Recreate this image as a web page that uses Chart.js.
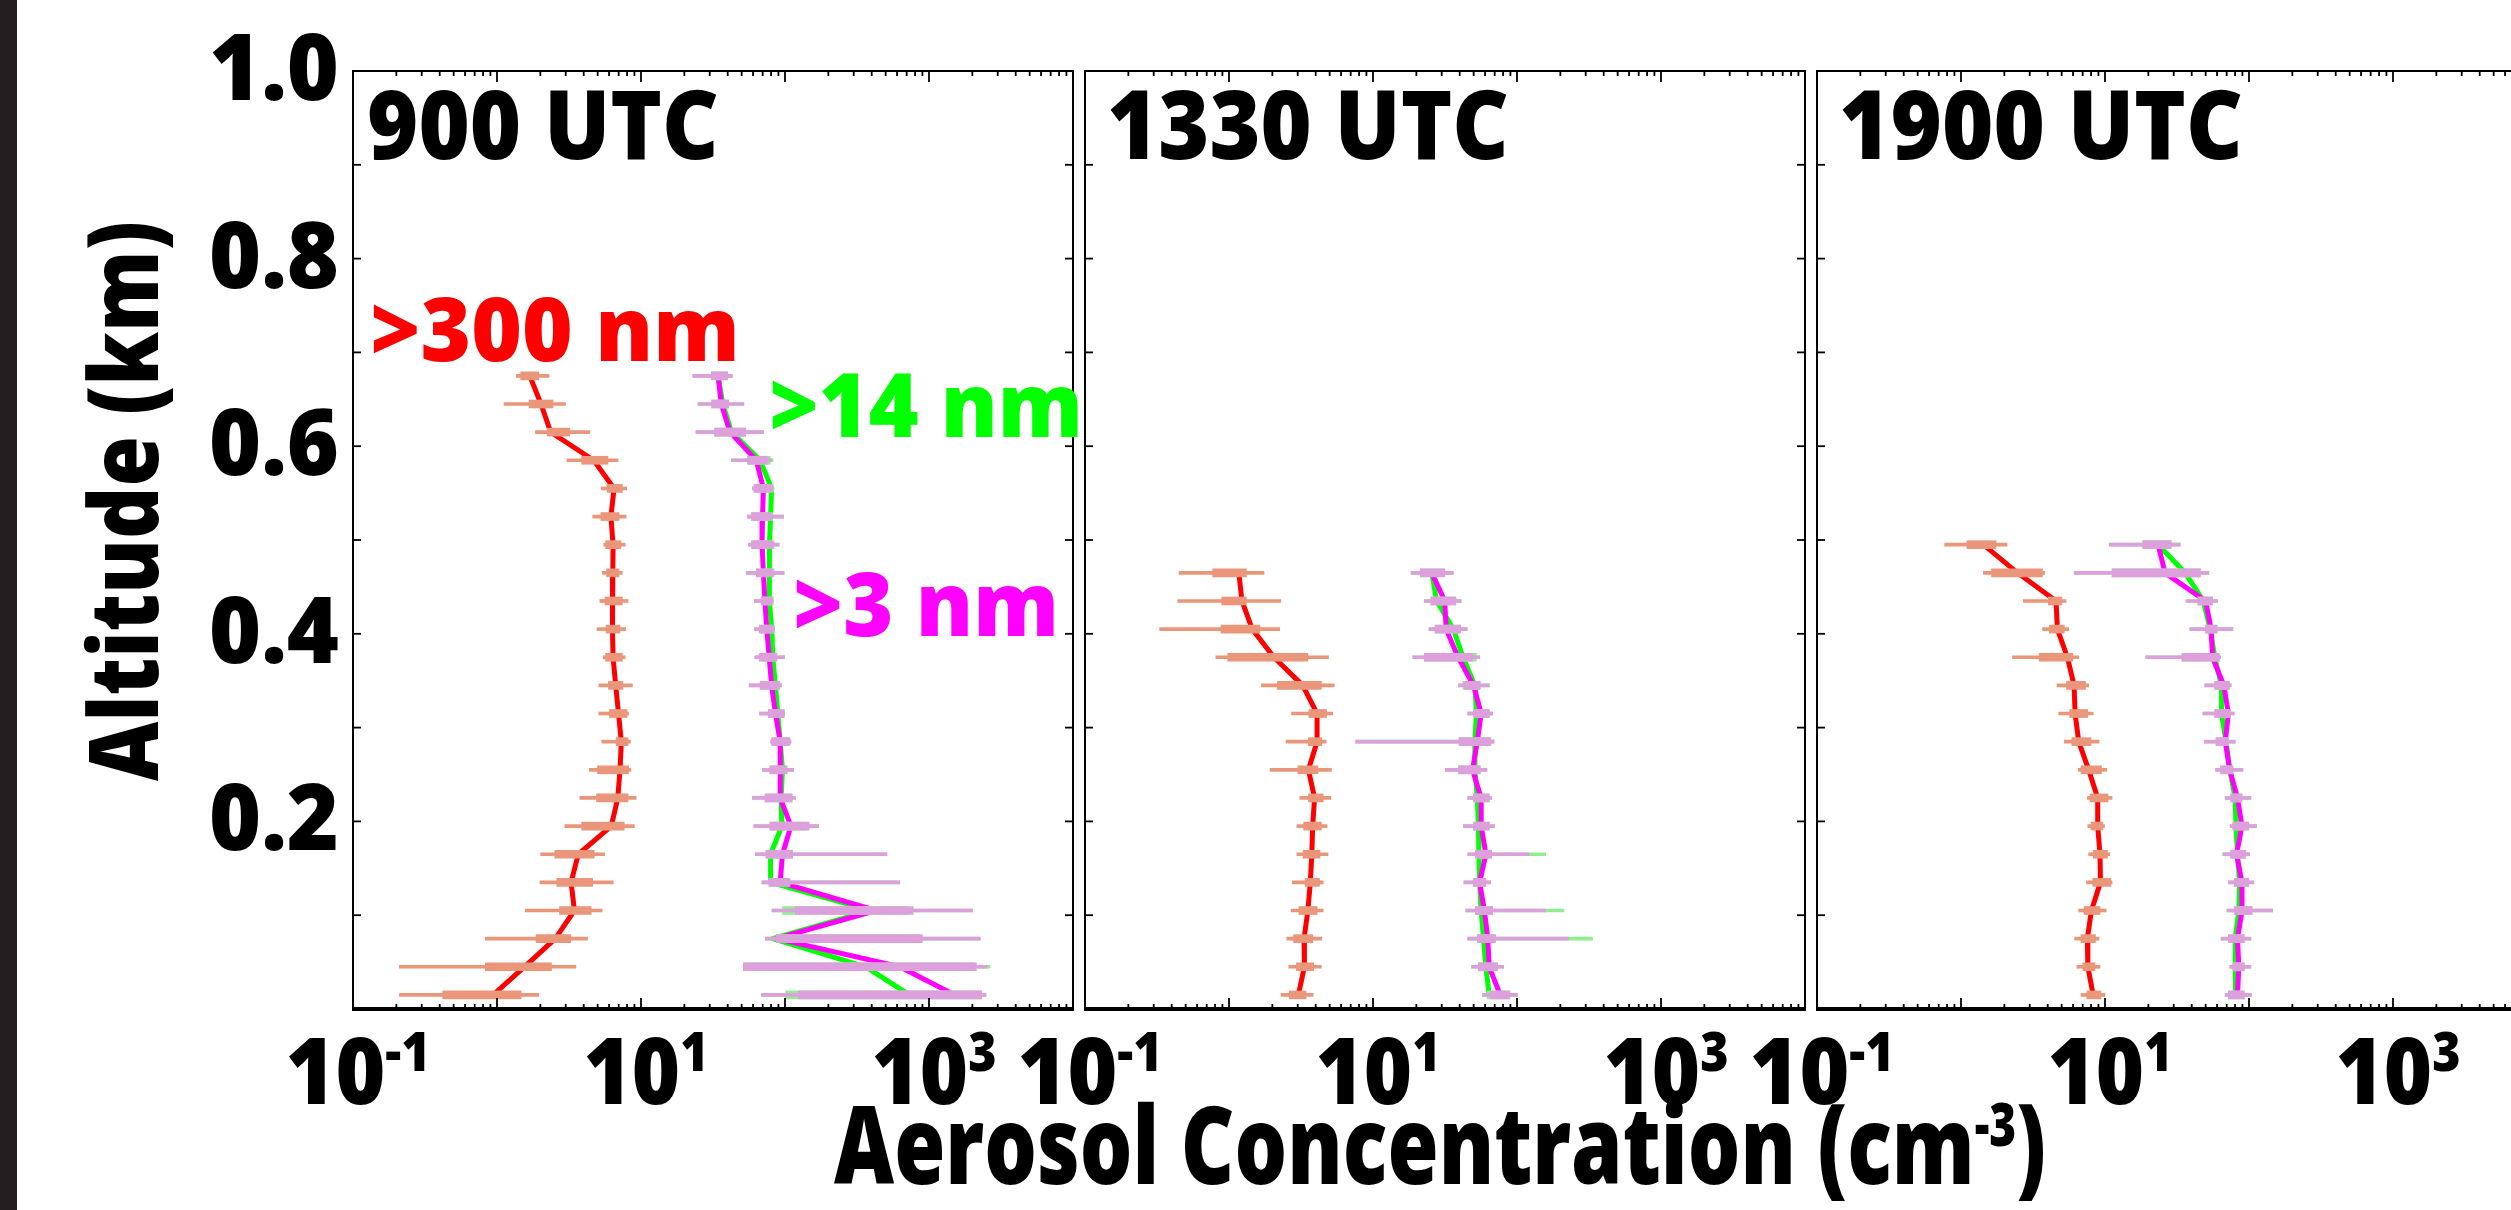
<!DOCTYPE html>
<html lang="en">
<head>
<meta charset="UTF-8">
<title>Aerosol concentration profiles</title>
<script src="https://cdn.jsdelivr.net/npm/chart.js"></script>
<style>
  html, body { margin: 0; padding: 0; background: #fff; overflow: hidden; }
  body { width: 2511px; height: 1210px; position: relative; }
  .strip { position: absolute; left: 0; top: 0; width: 17px; height: 1210px; background: #231f20; z-index: 5; }
  canvas { position: absolute; left: 0; top: 0; }
</style>
</head>
<body>
<div class="strip"></div>
<canvas id="p1" width="2560" height="1210"></canvas>
<canvas id="p2" width="2560" height="1210"></canvas>
<canvas id="p3" width="2560" height="1210"></canvas>
<script>
// ---- 900 UTC profile (altitude in km, concentrations in cm^-3), top to bottom
const alt1 = [0.675,0.645,0.615,0.585,0.555,0.525,0.495,0.465,0.435,0.405,0.375,0.345,0.315,0.285,0.255,0.225,0.195,0.165,0.135,0.105,0.075,0.045,0.015];
const red1 = [1.69,2.02,2.36,4.69,6.5,6.18,6.4,6.37,6.37,6.3,6.4,6.67,6.98,7.3,7.15,6.9,6.22,3.67,3.27,3.45,2.54,1.55,0.94];
const r1wLo = [1.36,1.12,1.85,3.06,5.30,4.62,5.51,5.38,5.18,4.95,5.46,5.10,5.10,5.34,4.38,3.76,2.96,2.01,1.99,1.57,0.83,0.21,0.21];
const r1wHi = [2.30,2.99,4.41,6.93,7.95,7.89,7.77,7.42,8.13,7.83,7.77,8.71,8.19,8.45,8.51,9.26,8.99,5.59,6.42,5.38,4.25,3.53,1.95];
const r1bLo = [1.46,1.67,2.23,3.87,5.81,5.26,5.68,5.77,5.63,5.72,5.68,5.94,6.04,6.72,4.99,4.91,3.87,2.52,2.60,2.72,1.87,0.83,0.42];
const r1bHi = [1.95,2.45,3.20,5.90,7.42,7.04,7.25,7.04,7.42,7.14,7.42,7.48,8.01,8.13,8.19,8.13,7.65,4.73,4.62,4.51,3.25,2.39,1.47];
const mag1 = [34.3,36.1,41.5,63.2,70.8,69.8,69.3,70.8,72.5,74.7,77.7,80.7,85.8,92.6,92.6,92.6,110,96,92.6,428,87,627,1510];
const grn1 = [34.3,37,42.5,67.1,80.7,79.4,78,77.7,78,81,82.2,85.8,89.1,92.6,96,94,95,79.4,79.4,396,82,364,731];
const m1wLo = [22.9,24.9,24.1,42.5,59.4,54.7,55.9,53.8,61.3,61.3,61.8,56.4,66.7,79.5,69.8,59.4,60.8,62.2,69.3,81.3,73.1,51.4,68.7];
const m1wHi = [43.1,51.8,70.9,80.7,82.6,97.7,91.2,98.5,82.6,84.5,99.2,94.8,99.2,110,115,118,171,510,627,2006,2267,2523,2485];
const m1bLo = [30.8,31.0,32.5,55.1,60.8,58.5,58.5,63.2,68.2,66.2,66.2,67.2,76.5,80.7,78.3,72.5,78.3,73.7,77.1,118,87.1,51.4,124];
const m1bHi = [39.9,40.6,53.4,75.3,81.3,80.1,82.6,82.6,81.3,83.2,87.1,91.2,98.5,108,102,112,147,113,108,777,898,2132,2320];
const g1wLo = [22.9,24.9,24.1,42.5,59.4,54.7,55.9,53.8,61.3,61.3,61.8,56.4,66.7,79.5,69.8,59.4,60.8,62.2,69.3,81.3,73.1,51.4,68.7];
const g1wHi = [43.1,51.8,70.9,82.6,84,97.7,91.2,98.5,82.6,84.5,99.2,94.8,99.2,110,115,118,171,510,627,2006,2267,2650,2485];
const g1bLo = [30.8,31.0,32.5,55.1,62,60,60,64,70,68,68,68,77,82,80,74,80,74,78,96,88,51.4,101];
const g1bHi = [39.9,40.6,53.4,79,83,82,84,84,83,85,88,92,99,108,104,112,140,113,108,700,850,2050,2300];

// ---- 1330 UTC profile
const alt2 = [0.465,0.435,0.405,0.375,0.345,0.315,0.285,0.255,0.225,0.195,0.165,0.135,0.105,0.075,0.045,0.015];
const red2 = [1.17,1.23,1.45,2.05,3.25,4.09,4.09,3.56,3.93,3.81,3.76,3.67,3.53,3.32,3.34,3.03];
const r2wLo = [0.45,0.44,0.33,0.81,1.68,2.72,2.49,1.93,3.10,2.96,2.96,2.75,2.70,2.52,2.60,2.30];
const r2wHi = [1.75,2.29,2.25,4.91,5.38,5.26,4.73,5.14,5.10,4.80,4.87,4.51,4.51,4.41,4.38,3.84];
const r2bLo = [0.77,0.89,0.88,0.98,2.17,3.59,3.56,3.01,3.56,3.30,3.27,3.38,3.06,2.81,2.94,2.62];
const r2bHi = [1.32,1.32,1.64,3.53,4.38,4.76,4.41,4.15,4.51,4.38,4.28,4.25,4.09,3.82,3.87,3.43];
const mag2 = [25.6,31.5,32.2,39,49.9,56.4,53,49.1,56.4,56.4,60.8,55,59.4,62.7,64.1,76.5];
const grn2 = [25.6,27.7,36.1,42.2,51,52.3,51,51,53,54,54.4,55,56.4,58.5,60.8,64.1];
const m2wLo = [18.4,22.7,24.5,18.9,39.3,45.5,7.59,31.8,45.5,42.5,45.5,42.8,44.1,45.5,48.4,57.7];
const m2wHi = [36.1,40.9,45.1,55.1,64.2,67.7,69.3,61.8,66.7,69.8,121,65.7,158,227,80.7,101];
const m2bLo = [21.3,25.2,27.0,22.7,43.1,49.9,39.6,39.3,49.9,49.9,51.4,49.9,51.4,53.0,53.8,65.7];
const m2bHi = [31.5,37.6,40.6,49.1,55.5,64.2,65.7,55.5,64.2,64.2,66.7,60.8,67.7,70.9,73.1,89.2];
const g2wLo = [18.4,22.7,24.5,18.9,39.3,45.5,7.59,31.8,45.5,42.5,45.5,42.8,44.1,45.5,48.4,57.7];
const g2wHi = [36.1,40.9,45.1,55.1,64.2,67.7,69.3,61.8,66.7,69.8,158,65.7,212,335,80.7,101];
const g2bLo = [21.3,25.2,27.0,22.7,42.1,49.9,39.6,39.3,49.9,49.9,51.4,49.9,51.4,53.0,53.8,62];
const g2bHi = [31.5,37.6,40.6,52.2,55.5,64.2,65.7,55.5,64.2,64.2,66.7,60.8,67.7,70.9,73.1,89.2];

// ---- 1900 UTC profile
const alt3 = [0.495,0.465,0.435,0.405,0.375,0.345,0.315,0.285,0.255,0.225,0.195,0.165,0.135,0.105,0.075,0.045,0.015];
const red3 = [1.43,2.47,4.57,4.67,5.48,6.1,6.2,6.57,7.7,8.9,8.9,9.23,9.3,8.05,7.54,7.6,8.28];
const r3wLo = [0.77,1.43,2.71,3.68,2.28,4.64,4.77,5.21,6.52,7.54,7.59,7.70,7.43,6.57,6.15,6.38,6.81];
const r3wHi = [2.09,3.81,5.36,5.60,6.57,7.70,8.28,9.10,10.3,11.2,9.93,10.8,11.2,10.2,9.10,9.24,10.0];
const r3bLo = [1.10,1.63,4.04,4.10,3.49,5.40,5.68,5.89,6.81,7.87,7.99,8.28,8.22,7.16,6.81,7.01,7.48];
const r3bHi = [1.75,3.68,5.02,5.21,5.98,7.32,7.59,7.99,9.44,10.5,9.65,10.4,11.0,9.24,8.59,8.52,9.37];
const mag3 = [23.4,26.1,50,54.6,55.8,66.8,71.9,68.4,73.5,83.2,89.4,81.9,89.4,89.4,83.2,85,83.2];
const grn3 = [23.4,36,48.2,53.8,57.8,64.4,64.4,69.3,73.5,80.2,81.2,83.2,86.1,85,80.2,81.2,80.2];
const m3wLo = [10.7,6.11,36.6,38.8,19.2,49.3,47.9,49.0,58.7,68.3,74.0,65.9,71.9,70.3,64.0,73.5,68.3];
const m3wHi = [33.3,52.6,60.4,77.3,63.5,75.1,79.0,80.2,90.7,103,113,101,108,146,103,103,104];
const m3bLo = [18.3,11.2,44.2,50.0,34.3,57.8,57.8,59.1,63.5,74.6,77.3,74.6,79.0,79.0,71.9,77.3,71.9];
const m3bHi = [28.8,45.9,55.8,60.0,62.2,73.0,74.6,71.9,77.3,89.4,99.6,94.7,99.6,105,92.7,92.7,92.7];

// axis labels and annotations
const panelTitles = ['900 UTC', '1330 UTC', '1900 UTC'];
const yTickValues = [0.1,0.2,0.3,0.4,0.5,0.6,0.7,0.8,0.9];
const yTickLabels = ['0.2','0.4','0.6','0.8','1.0'];
const xTickExponents = [-1, 1, 3];
const sizeLabels = ['>300 nm', '>14 nm', '>3 nm'];
const sizeLabelX = [0.131, 77.4, 113.6];
const sizeLabelY = [0.691, 0.610, 0.398];
const sizeLabelColors = ['#ff0000', '#00ff00', '#ff00ff'];

const FONT = "'Open Sans', 'Noto Sans', sans-serif";
const WEIGHT = 800;
const RED = '#ff0000', MAG = '#ff00ff', GRN = '#00ff00';
const SALMON = '#e9967a', PLUM = '#dda0dd', LTGRN = '#90ee90';

function pts(xs, ys) { return xs.map((v, i) => ({x: v, y: ys[i]})); }
function spans(lo, hi, ys) { return lo.map((v, i) => ({x: [v, hi[i]], y: ys[i]})); }

function lineSet(data, color, order) {
  return {type: 'line', data, borderColor: color, borderWidth: 5, pointRadius: 0,
          tension: 0, fill: false, order, borderJoinStyle: 'round', borderCapStyle: 'round'};
}
function barSet(data, color, thick, order) {
  return {type: 'bar', indexAxis: 'y', data, backgroundColor: color, borderWidth: 0,
          barThickness: thick, grouped: false, order};
}

// draws text runs (e.g. "10" + superscript) squeezed to an optional width
function drawRuns(ctx, runs, x, y, o) {
  o = o || {};
  let total = 0;
  const widths = runs.map(r => {
    ctx.font = WEIGHT + ' ' + r.size + 'px ' + FONT;
    const w = ctx.measureText(r.t).width;
    total += w;
    return w;
  });
  const s = o.width ? o.width / total : 1;
  const start = o.align === 'center' ? -total * s / 2 : o.align === 'right' ? -total * s : 0;
  ctx.save();
  ctx.translate(x, y);
  if (o.rotate) ctx.rotate(o.rotate);
  ctx.translate(start, 0);
  ctx.scale(s, 1);
  ctx.fillStyle = o.color || '#000';
  ctx.textBaseline = 'alphabetic';
  ctx.textAlign = 'left';
  let cx = 0;
  runs.forEach((r, i) => {
    ctx.font = WEIGHT + ' ' + r.size + 'px ' + FONT;
    ctx.fillText(r.t, cx, r.dy || 0);
    cx += widths[i];
  });
  ctx.restore();
}

const frame = {
  id: 'frame',
  afterDraw(chart, args, o) {
    const {ctx, chartArea: a} = chart;
    const xs = chart.scales.x, ys = chart.scales.y;
    const seg = (x1, y1, x2, y2) => { ctx.beginPath(); ctx.moveTo(x1, y1); ctx.lineTo(x2, y2); ctx.stroke(); };
    ctx.save();
    ctx.strokeStyle = '#000';
    ctx.lineWidth = 1.8;
    // log ticks, pointing inwards on top and bottom
    for (let e = -1; e < 4; e++) {
      for (let k = 1; k < 10; k++) {
        const px = xs.getPixelForValue(k * Math.pow(10, e));
        const len = k === 1 ? 11 : 5;
        seg(px, a.bottom, px, a.bottom - len);
        seg(px, a.top, px, a.top + len);
      }
    }
    yTickValues.forEach(v => {
      const py = ys.getPixelForValue(v);
      seg(a.left, py, a.left + 8, py);
      seg(a.right, py, a.right - 8, py);
    });
    ctx.lineWidth = 2;
    ctx.strokeRect(a.left, a.top, a.width, a.height);
    ctx.lineWidth = 4;
    seg(a.left - 1, a.bottom, a.right + 1, a.bottom);
    ctx.restore();

    // panel time stamp
    drawRuns(ctx, [{t: o.title, size: 96}], a.left + o.titleDx, a.top + 88, {width: o.titleWidth});

    // decade labels
    xTickExponents.forEach(e => {
      const px = xs.getPixelForValue(Math.pow(10, e));
      drawRuns(ctx, [{t: '10', size: 92}, {t: String(e), size: 54, dy: -33}],
               px + 5, a.bottom + 95, {align: 'center', width: e < 0 ? 145 : 125});
    });

    if (o.yAxis) {
      yTickLabels.forEach(t => {
        const py = ys.getPixelForValue(Number(t));
        drawRuns(ctx, [{t, size: 92}], a.left - 14, py + 29, {align: 'right', width: 130});
      });
      drawRuns(ctx, [{t: 'Altitude (km)', size: 96}], a.left - 195, a.bottom - 228,
               {rotate: -Math.PI / 2, width: 560});
      sizeLabels.forEach((t, i) => {
        drawRuns(ctx, [{t, size: 88}], xs.getPixelForValue(sizeLabelX[i]),
                 ys.getPixelForValue(sizeLabelY[i]), {color: sizeLabelColors[i], width: [370, 314, 266][i]});
      });
    }
    if (o.xTitle) {
      drawRuns(ctx, [{t: 'Aerosol Concentration (cm', size: 108}, {t: '-3', size: 60, dy: -38},
                     {t: ')', size: 108}], 1440, 1184, {align: 'center', width: 1212});
    }
  }
};

const panels = [
  {id: 'p1', left: 353, alt: alt1, red: red1, mag: mag1, grn: grn1,
   r: [r1wLo, r1wHi, r1bLo, r1bHi], m: [m1wLo, m1wHi, m1bLo, m1bHi], g: [g1wLo, g1wHi, g1bLo, g1bHi],
   frame: {title: panelTitles[0], titleDx: 14, titleWidth: 352, yAxis: true}},
  {id: 'p2', left: 1085, alt: alt2, red: red2, mag: mag2, grn: grn2,
   r: [r2wLo, r2wHi, r2bLo, r2bHi], m: [m2wLo, m2wHi, m2bLo, m2bHi], g: [g2wLo, g2wHi, g2bLo, g2bHi],
   frame: {title: panelTitles[1], titleDx: 22, titleWidth: 402, xTitle: true}},
  {id: 'p3', left: 1817, alt: alt3, red: red3, mag: mag3, grn: grn3,
   r: [r3wLo, r3wHi, r3bLo, r3bHi], m: [m3wLo, m3wHi, m3bLo, m3bHi], g: [m3wLo, m3wHi, m3bLo, m3bHi],
   frame: {title: panelTitles[2], titleDx: 22, titleWidth: 404}}
];

const PW = 720, TOP = 71, BOTTOM = 1009, CW = 2560, CH = 1210;

panels.forEach(p => {
  const datasets = [
    barSet(spans(p.m[2], p.m[3], p.alt), PLUM, 8, 0),
    barSet(spans(p.m[0], p.m[1], p.alt), PLUM, 3, 1),
    barSet(spans(p.g[2], p.g[3], p.alt), LTGRN, 8, 2),
    barSet(spans(p.g[0], p.g[1], p.alt), LTGRN, 3, 3),
    barSet(spans(p.r[2], p.r[3], p.alt), SALMON, 8, 4),
    barSet(spans(p.r[0], p.r[1], p.alt), SALMON, 3, 5),
    lineSet(pts(p.red, p.alt), RED, 6),
    lineSet(pts(p.mag, p.alt), MAG, 7),
    lineSet(pts(p.grn, p.alt), GRN, 8)
  ];
  new Chart(document.getElementById(p.id), {
    type: 'line',
    data: {datasets},
    options: {
      responsive: false,
      animation: false,
      devicePixelRatio: 1,
      events: [],
      layout: {padding: {left: p.left, right: CW - p.left - PW, top: TOP, bottom: CH - BOTTOM}},
      plugins: {legend: {display: false}, tooltip: {enabled: false}, frame: p.frame},
      scales: {
        x: {type: 'logarithmic', min: 0.1, max: 10000, display: false, offset: false, beginAtZero: false},
        y: {type: 'linear', min: 0, max: 1, display: false, offset: false}
      }
    },
    plugins: [frame]
  });
});
</script>
</body>
</html>
